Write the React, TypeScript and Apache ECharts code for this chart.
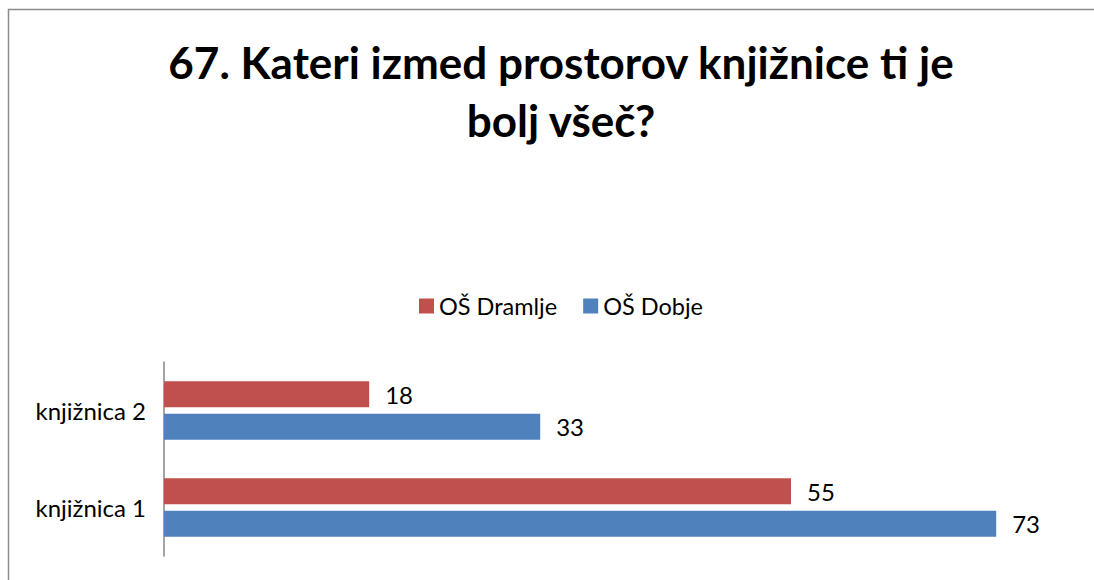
import React, { useEffect, useRef } from "react";
import * as echarts from "echarts";

const categories = ["knjižnica 1", "knjižnica 2"];
const dramlje = [55, 18];
const dobje = [73, 33];
const seriesNames = ["OŠ Dramlje", "OŠ Dobje"];
const titleText = "67. Kateri izmed prostorov knjižnice ti je\nbolj všeč?";

export default function App() {
  const ref = useRef<HTMLDivElement>(null);
  useEffect(() => {
    const chart = echarts.init(ref.current!, null, { renderer: "svg" });
    const font = "Lato, 'Open Sans', sans-serif";
    const labelStyle = {
      show: true,
      position: "right",
      distance: 16,
      fontFamily: font,
      fontSize: 24,
      color: "#000000",
    };
    chart.setOption({
      animation: false,
      backgroundColor: "#ffffff",
      textStyle: { fontFamily: font },
      graphic: [
        {
          type: "rect",
          shape: { x: 8.5, y: 9.5, width: 1100, height: 600 },
          style: { fill: "none", stroke: "#8c8c8c", lineWidth: 1.5 },
          silent: true,
          z: 100,
        },
      ],
      title: {
        text: titleText,
        left: 556,
        textAlign: "center",
        top: 28,
        textStyle: {
          fontFamily: font,
          fontWeight: "bold",
          fontSize: 44,
          lineHeight: 58,
          color: "#000000",
        },
      },
      legend: {
        data: seriesNames,
        left: 414,
        top: 289,
        itemWidth: 15,
        itemHeight: 15,
        itemGap: 26,
        icon: "rect",
        textStyle: { fontFamily: font, fontSize: 23.5, color: "#000000" },
      },
      grid: { left: 164, right: 18, top: 362, bottom: 24, containLabel: false },
      xAxis: {
        type: "value",
        min: 0,
        max: 80,
        show: false,
        splitLine: { show: false },
      },
      yAxis: {
        type: "category",
        data: categories,
        axisLine: { show: true, lineStyle: { color: "#868686", width: 1.5 } },
        axisTick: { show: false },
        axisLabel: { fontFamily: font, fontSize: 24, color: "#000000", margin: 18 },
      },
      series: [
        {
          name: seriesNames[0],
          type: "bar",
          data: dramlje,
          barWidth: 26,
          barGap: "25%",
          itemStyle: { color: "#c0504d" },
          label: labelStyle,
        },
        {
          name: seriesNames[1],
          type: "bar",
          data: dobje,
          barWidth: 26,
          barGap: "25%",
          itemStyle: { color: "#4f81bd" },
          label: labelStyle,
        },
      ],
    });
    return () => chart.dispose();
  }, []);
  return (
    <div
      ref={ref}
      style={{ position: "fixed", left: 0, top: 0, width: 1094, height: 580 }}
    />
  );
}
